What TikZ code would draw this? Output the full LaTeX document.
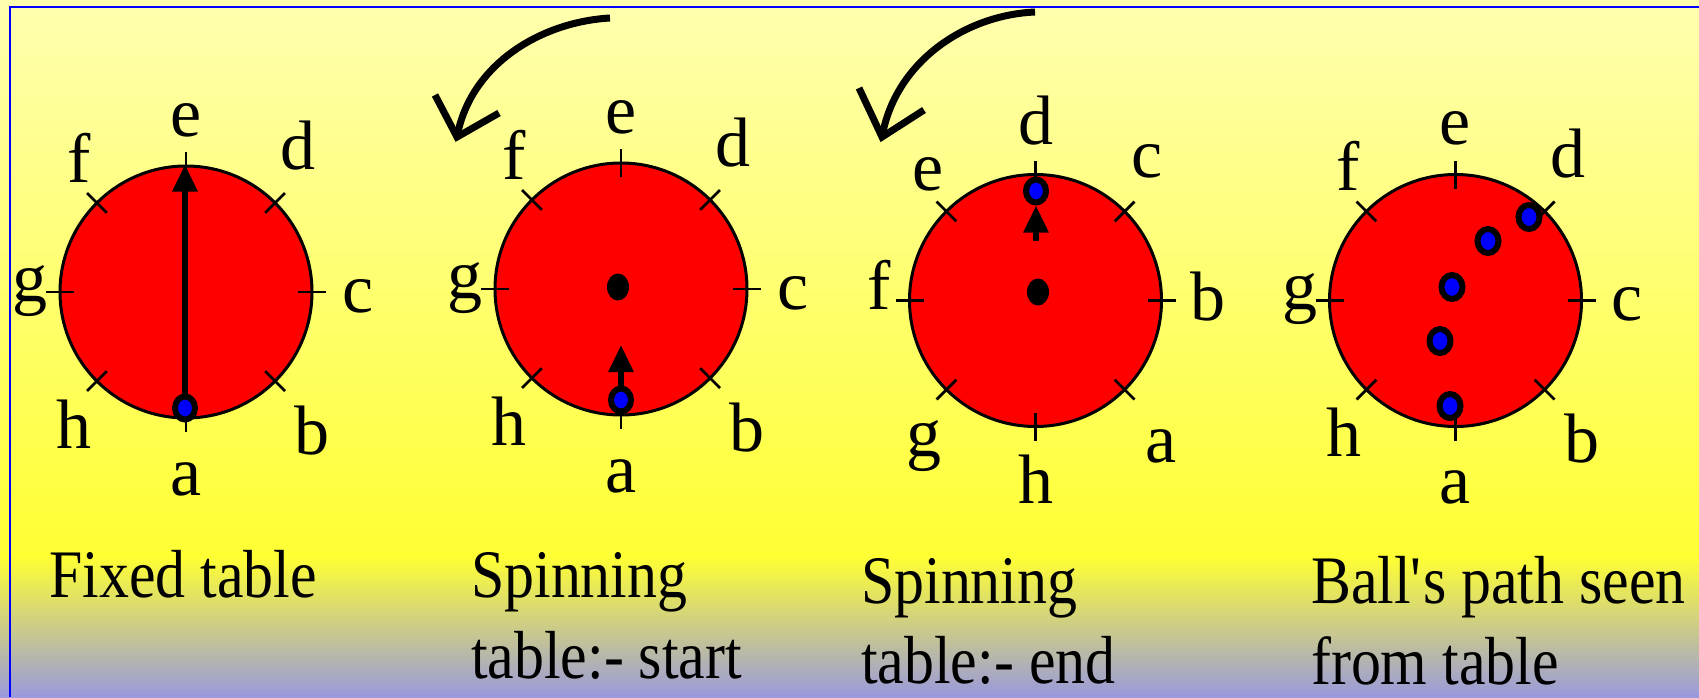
\documentclass[tikz,border=0pt]{standalone}
\usepackage{fontspec}
\setmainfont{Liberation Serif}
\newfontfamily\capfont[FakeStretch=0.88]{Liberation Serif}
\usetikzlibrary{shapes.geometric,arrows.meta}
\definecolor{bgtop}{RGB}{255,255,176}
\definecolor{bgmid}{RGB}{255,255,51}
\definecolor{bgbot}{RGB}{153,153,221}
\begin{document}
\begin{tikzpicture}[x=1pt,y=-1pt,
  tablebox/.style={circle,draw=black,fill=red,line width=3pt,minimum size=252pt,inner sep=0pt},
  tickline/.style={line width=2.8pt},
  lbl/.style={font=\fontsize{70}{84}\selectfont,anchor=base,inner sep=0pt},
  capt/.style={font=\capfont\fontsize{68}{81}\selectfont,anchor=base west,inner sep=0pt},
  ball/.style={ellipse,draw=black,fill=blue,line width=6pt,minimum width=20pt,minimum height=23pt,inner sep=0pt},
  hub/.style={ellipse,fill=black,minimum width=22pt,minimum height=27pt,inner sep=0pt},
  vec/.style={line width=6pt,-{Triangle[length=27pt,width=24pt]}},
  spin/.style={line width=7pt},
  spinhead/.style={line width=7pt,miter limit=10},
]
\useasboundingbox (0,0) rectangle (1699,697);
\shade[top color=bgtop,bottom color=bgmid] (0,0) rectangle (1699,557);
\shade[top color=bgmid,bottom color=bgbot] (0,556) rectangle (1699,697);
\draw[blue,line width=2pt] (9.5,697) -- (9.5,7) -- (1699,7);

% tables
\node[tablebox] (c1) at (186,292) {};
\node[tablebox] (c2) at (621,289) {};
\node[tablebox] (c3) at (1035.5,300.5) {};
\node[tablebox] (c4) at (1455.5,300.5) {};

\foreach \c in {c1,c2,c3,c4}{
  \foreach \a in {0,45,...,315}{
    \draw[tickline] ([shift={(\a:112)}]\c.center) -- ([shift={(\a:140)}]\c.center);
  }
}

% labels
\foreach \c/\lab in {c1/{e,d,c,b,a,h,g,f},c2/{e,d,c,b,a,h,g,f},c3/{d,c,b,a,h,g,f,e},c4/{e,d,c,b,a,h,g,f}}{
  \foreach \l [count=\i] in \lab {
    \ifcase\i\or\def\dx{0}\def\dy{-156}\or\def\dx{112}\def\dy{-123}\or\def\dx{172}\def\dy{20}\or\def\dx{126}\def\dy{162}\or\def\dx{0}\def\dy{203}\or\def\dx{-112}\def\dy{156}\or\def\dx{-156}\def\dy{9}\or\def\dx{-107}\def\dy{-110}\fi
    \node[lbl] (\c l\i) at ([shift={(\dx,\dy)}]\c.center) {\l};
  }
}

% table 1
\node[ball] (b1) at (185,408) {};
\draw[vec] (b1.north) -- (b1 |- c1.north);

% table 2
\node[hub] (h2) at (618,287) {};
\node[ball] (b2) at (621,400) {};
\coordinate (t2) at (621,345);
\draw[vec] (b2.north) -- (t2);
\coordinate (s2) at (610,18);
\coordinate (e2) at (457,137);
\draw[spin] (s2) .. controls (540,22) and (470,65) .. (e2);
\draw[spinhead] (435,95) -- (e2) -- (499,113);

% table 3
\node[hub] (h3) at (1038,292) {};
\node[ball] (b3) at (1036,191) {};
\coordinate (t3) at (1036,241);
\draw[vec] (t3) -- (b3.south);
\coordinate (s3) at (1035,12);
\coordinate (e3) at (882,137);
\draw[spin] (s3) .. controls (965,15) and (895,62) .. (e3);
\draw[spinhead] (859,88) -- (e3) -- (924,110);

% table 4
\node[ball,minimum width=21pt,minimum height=24pt] (p1) at (1529,217) {};
\node[ball,minimum width=21pt,minimum height=24pt] (p2) at (1488,241) {};
\node[ball,minimum width=21pt,minimum height=24pt] (p3) at (1452,287) {};
\node[ball,minimum width=21pt,minimum height=24pt] (p4) at (1440,341) {};
\node[ball,minimum width=21pt,minimum height=24pt] (p5) at (1450,406) {};

% captions
\node[capt] (cap1) at (49,597) {Fixed table};
\node[capt] (cap2a) at (471,597) {Spinning};
\node[capt] (cap2b) at (471,678) {table:- start};
\node[capt] (cap3a) at (861,603) {Spinning};
\node[capt] (cap3b) at (861,683) {table:- end};
\node[capt] (cap4a) at (1311,603) {Ball\textquotesingle s path seen};
\node[capt] (cap4b) at (1311,684) {from table};
\end{tikzpicture}
\end{document}
